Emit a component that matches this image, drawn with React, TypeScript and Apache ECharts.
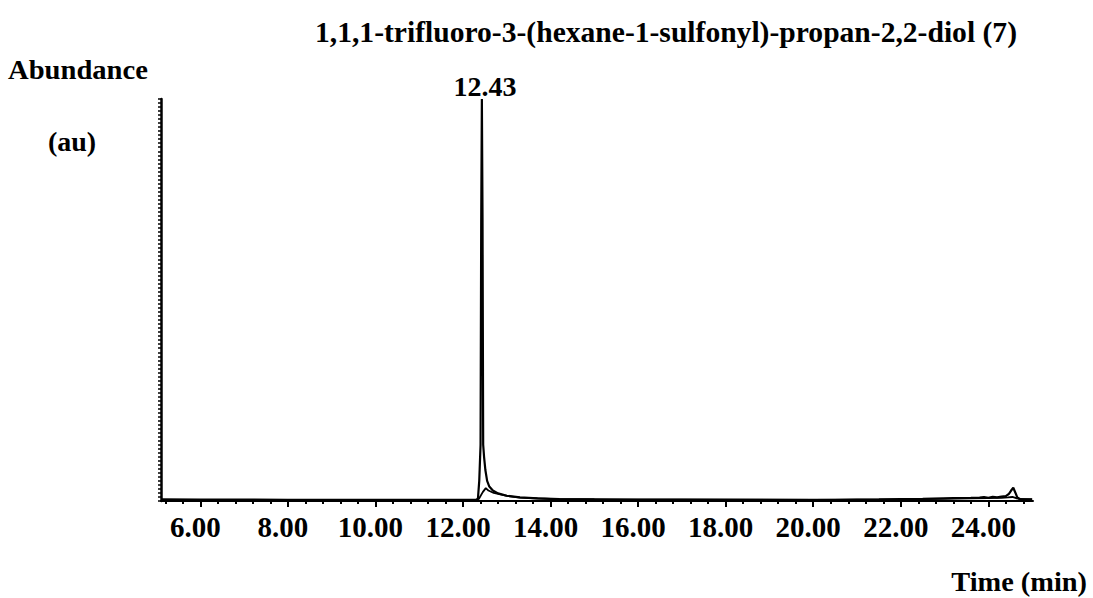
import React, { useEffect, useRef } from "react";
import * as echarts from "echarts";

// Chromatogram: retention time (min) vs. abundance (arbitrary units, 0–100)
const timeMain = [
  5.12, 6.0, 8.0, 10.0, 11.0, 12.0, 12.3, 12.34, 12.37, 12.4, 12.415, 12.43, 12.445,
  12.46, 12.48, 12.51, 12.55, 12.6, 12.68, 12.8, 13.0, 13.3, 13.7, 14.2, 15.0,
  17.0, 19.0, 20.5, 21.5, 22.5, 23.2, 23.6, 23.8, 23.9, 24.0, 24.1, 24.2, 24.3,
  24.4, 24.47, 24.52, 24.57, 24.62, 24.66, 24.72, 25.0,
];
const abundanceMain = [
  0.4, 0.35, 0.3, 0.3, 0.3, 0.3, 0.35, 0.6, 5, 14, 70, 100, 70,
  14, 11, 7.7, 5, 3.6, 2.6, 1.9, 1.3, 0.9, 0.65, 0.5, 0.4,
  0.35, 0.3, 0.3, 0.4, 0.55, 0.75, 0.8, 0.85, 1.0, 0.8, 1.05, 0.9, 1.1,
  1.2, 1.8, 2.6, 3.3, 2.0, 0.9, 0.5, 0.4,
];

const timeSecond = [
  5.12, 12.3, 12.36, 12.45, 12.52, 12.58, 12.7, 12.8, 13.0, 13.3, 14.0, 16.0,
  20.0, 22.0, 23.0, 23.6, 24.0, 24.3, 24.45, 24.55, 24.7, 25.0,
];
const abundanceSecond = [
  0.3, 0.3, 0.5, 2.2, 3.2, 2.6, 2.0, 1.8, 1.25, 0.85, 0.5, 0.35,
  0.3, 0.4, 0.55, 0.65, 0.7, 0.8, 0.9, 1.0, 0.5, 0.4,
];

const majorTicks = [6, 8, 10, 12, 14, 16, 18, 20, 22, 24];
const minorTickStep = 0.4;

const titleText = "1,1,1-trifluoro-3-(hexane-1-sulfonyl)-propan-2,2-diol (7)";
const peakLabel = "12.43";

const FONT = "'Liberation Serif', 'Times New Roman', serif";

function pairs(xs: number[], ys: number[]) {
  return xs.map((x, i) => [x, ys[i]]);
}

export default function App() {
  const ref = useRef<HTMLDivElement>(null);

  useEffect(() => {
    if (!ref.current) return;
    const chart = echarts.init(ref.current, undefined, { renderer: "svg" });

    const minorTicks: number[] = [];
    for (let k = 13; k <= 62; k++) minorTicks.push(Math.round(k * minorTickStep * 100) / 100);

    const xMin = 5.1;
    const xMax = 25.02;

    const textStyle = (extra: any) => ({
      fontFamily: FONT,
      fontWeight: "bold",
      fill: "#000",
      ...extra,
    });

    chart.setOption({
      animation: false,
      backgroundColor: "#fff",
      grid: { left: 161, right: 60, top: 99, bottom: 97 },
      xAxis: [
        {
          type: "value",
          min: xMin,
          max: xMax,
          axisLine: { show: true, onZero: false, lineStyle: { color: "#000", width: 2 } },
          axisTick: { show: true, customValues: majorTicks, length: 6, lineStyle: { color: "#000", width: 2 } },
          axisLabel: {
            show: true,
            customValues: majorTicks,
            formatter: (v: number) => v.toFixed(2),
            fontFamily: FONT,
            fontWeight: "bold",
            fontSize: 29,
            color: "#000",
            margin: 11,
            padding: [0, 10, 0, 0],
          },
          splitLine: { show: false },
        },
        {
          type: "value",
          min: xMin,
          max: xMax,
          position: "bottom",
          axisLine: { show: false },
          axisTick: { show: true, customValues: minorTicks, length: 3, lineStyle: { color: "#000", width: 2 } },
          axisLabel: { show: false },
          splitLine: { show: false },
        },
      ],
      yAxis: {
        type: "value",
        min: 0,
        max: 100,
        interval: 1,
        axisLine: { show: true, lineStyle: { color: "#000", width: 2.5 } },
        axisTick: { show: true, length: 3, lineStyle: { color: "#000", width: 1.5 } },
        axisLabel: { show: false },
        splitLine: { show: false },
      },
      series: [
        {
          type: "line",
          xAxisIndex: 0,
          data: pairs(timeSecond, abundanceSecond),
          showSymbol: false,
          lineStyle: { color: "#000", width: 1.8 },
          z: 3,
        },
        {
          type: "line",
          xAxisIndex: 0,
          data: pairs(timeMain, abundanceMain),
          showSymbol: false,
          lineStyle: { color: "#000", width: 2.2 },
          z: 4,
        },
      ],
      graphic: [
        {
          type: "text",
          x: 666,
          y: 32,
          style: textStyle({ text: titleText, fontSize: 29, align: "center", verticalAlign: "middle" }),
          scaleX: 1.02,
        },
        {
          type: "text",
          x: 8,
          y: 70,
          style: textStyle({ text: "Abundance", fontSize: 27, align: "left", verticalAlign: "middle" }),
          scaleX: 1.06,
        },
        {
          type: "text",
          x: 72,
          y: 141,
          style: textStyle({ text: "(au)", fontSize: 28, align: "center", verticalAlign: "middle" }),
        },
        {
          type: "text",
          x: 485,
          y: 86,
          style: textStyle({ text: peakLabel, fontSize: 28, align: "center", verticalAlign: "middle" }),
        },
        {
          type: "text",
          x: 1087,
          y: 582,
          style: textStyle({ text: "Time (min)", fontSize: 27, align: "right", verticalAlign: "middle" }),
          scaleX: 1.05,
        },
      ],
    });

    return () => chart.dispose();
  }, []);

  return (
    <div
      ref={ref}
      style={{ position: "fixed", left: 0, top: 0, width: 1093, height: 598, background: "#fff" }}
    />
  );
}
